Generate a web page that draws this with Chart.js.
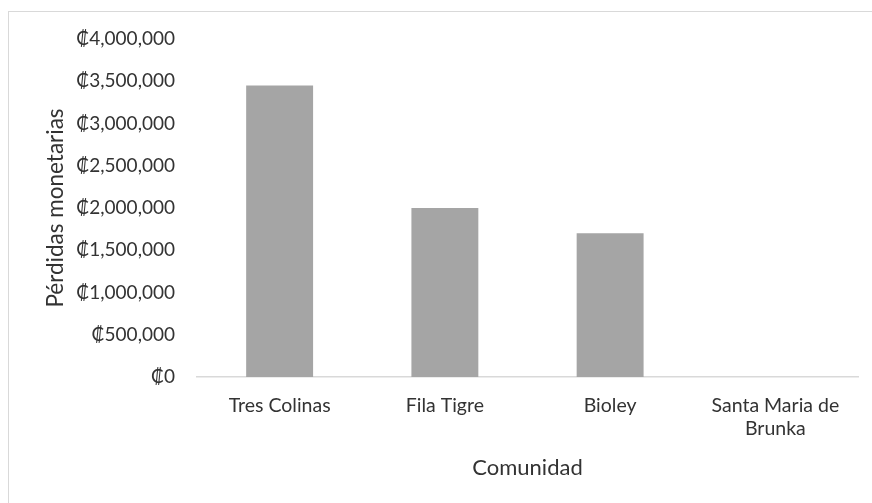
<!DOCTYPE html>
<html>
<head>
<meta charset="utf-8">
<script src="https://cdn.jsdelivr.net/npm/chart.js@4"></script>
<style>
  html, body { margin: 0; padding: 0; background: #fff; overflow: hidden; }
  #wrap { position: relative; width: 872px; height: 503px; }
  #frame { position: absolute; left: 8px; top: 11px; width: 900px; height: 520px;
           border: 1.5px solid #D9D9D9; box-sizing: border-box; }
  canvas { position: absolute; left: 0; top: 0; }
</style>
</head>
<body>
<div id="wrap">
  <div id="frame"></div>
  <canvas id="chart" width="872" height="503"></canvas>
</div>
<script>
// Pérdidas monetarias por comunidad (colones)
const categories = ['Tres Colinas', 'Fila Tigre', 'Bioley', ['Santa Maria de', 'Brunka']];
const losses = [3450000, 2000000, 1700000, 0];
const yTicks = [0, 500000, 1000000, 1500000, 2000000, 2500000, 3000000, 3500000, 4000000];

const fontFamily = 'Lato, "Open Sans", "Noto Sans", sans-serif';
const textColor = '#333333';

function colones(v) {
  return '\u20A1' + Number(v).toLocaleString('en-US');
}

new Chart(document.getElementById('chart'), {
  type: 'bar',
  data: {
    labels: categories,
    datasets: [{
      data: losses,
      backgroundColor: '#A5A5A5',
      borderWidth: 0,
      categoryPercentage: 1.0,
      barPercentage: 0.405
    }]
  },
  options: {
    responsive: false,
    animation: false,
    layout: { padding: { left: 42, right: 14, top: 39, bottom: 0 } },
    plugins: { legend: { display: false }, tooltip: { enabled: false } },
    scales: {
      x: {
        grid: { display: false, drawTicks: false },
        border: { display: true, color: '#D9D9D9', width: 1.5 },
        ticks: { color: textColor, font: { family: fontFamily, size: 19.5, lineHeight: 1.2 }, padding: 17, maxRotation: 0, autoSkip: false },
        title: { display: true, text: 'Comunidad', color: textColor, font: { family: fontFamily, size: 22 }, padding: { top: 10, bottom: 22 } },
        afterFit(scale) { scale.height = 126; }
      },
      y: {
        min: 0,
        max: 4000000,
        afterBuildTicks(scale) { scale.ticks = yTicks.map(v => ({ value: v })); },
        grid: { display: false, drawTicks: false },
        border: { display: false },
        ticks: { color: textColor, font: { family: fontFamily, size: 19 }, padding: 22, callback: v => colones(v) },
        title: { display: true, text: 'Pérdidas monetarias', color: textColor, font: { family: fontFamily, size: 22.5 }, padding: { top: 0, bottom: 8 } },
        afterFit(scale) { scale.width = 155; }
      }
    }
  }
});
</script>
</body>
</html>
